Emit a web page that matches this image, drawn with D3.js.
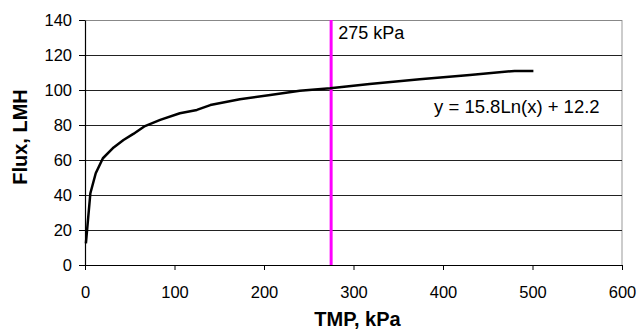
<!DOCTYPE html>
<html>
<head>
<meta charset="utf-8">
<script src="https://cdn.jsdelivr.net/npm/d3@7"></script>
<style>
  body { margin: 0; background: #fff; }
  text { font-family: Arial, "Liberation Sans", sans-serif; }
</style>
</head>
<body>
<div id="chart"></div>
<script>
// TMP (kPa) vs flux (LMH)
const tmp = [1, 6, 12, 20, 32, 43, 54, 67, 84, 106, 125, 140, 173, 207, 240, 274, 318, 374, 430, 480, 501];
const flux = [12.4, 41, 52.4, 61, 67.2, 71.4, 74.9, 79.4, 82.9, 86.7, 88.6, 91.4, 94.7, 97.1, 99.6, 101, 103.4, 106.1, 108.6, 110.9, 110.9];
const xTicks = [0, 100, 200, 300, 400, 500, 600];
const yTicks = [0, 20, 40, 60, 80, 100, 120, 140];
const markerTmp = 275;
const markerLabel = '275 kPa';
const fitLabel = 'y = 15.8Ln(x) + 12.2';

const width = 641, height = 332;
const margin = { top: 20, right: 19, bottom: 67, left: 85 };
const innerW = width - margin.left - margin.right;
const innerH = height - margin.top - margin.bottom;

const svg = d3.select('#chart').append('svg')
  .attr('width', width)
  .attr('height', height);

const g = svg.append('g')
  .attr('transform', 'translate(' + margin.left + ',' + margin.top + ')');

const x = d3.scaleLinear().domain([0, 600]).range([0, innerW]);
const y = d3.scaleLinear().domain([0, 140]).range([innerH, 0]);

// plot frame (right side light gray)
g.append('line')
  .attr('x1', innerW).attr('x2', innerW)
  .attr('y1', 0).attr('y2', innerH)
  .style('stroke', '#999').style('stroke-width', 1);

// horizontal gridlines
g.selectAll('.grid')
  .data(yTicks.slice(1))
  .enter().append('line')
  .attr('class', 'grid')
  .attr('x1', 0).attr('x2', innerW)
  .attr('y1', d => Math.round(y(d)) + 0.5)
  .attr('y2', d => Math.round(y(d)) + 0.5)
  .style('stroke', d => d === 140 ? '#888' : '#222')
  .style('stroke-width', 1);

// axes
const xAxis = d3.axisBottom(x).tickValues(xTicks).tickSize(5).tickSizeOuter(0).tickPadding(16);
const yAxis = d3.axisLeft(y).tickValues(yTicks).tickSize(6).tickSizeOuter(0).tickPadding(7);

const gx = g.append('g')
  .attr('transform', 'translate(0,' + innerH + ')')
  .call(xAxis);
const gy = g.append('g').call(yAxis);

[gx, gy].forEach(a => {
  a.select('.domain').style('stroke', '#000').style('stroke-width', 1.2);
  a.selectAll('.tick line').style('stroke', '#000');
  a.selectAll('.tick text')
    .style('font-size', '16.5px')
    .style('fill', '#000');
});

// marker line at 275 kPa
g.append('line')
  .attr('x1', x(markerTmp)).attr('x2', x(markerTmp))
  .attr('y1', 0).attr('y2', innerH)
  .style('stroke', '#ff00ff')
  .style('stroke-width', 3);

// flux curve
const line = d3.line()
  .x((d, i) => x(tmp[i]))
  .y(d => y(d));

g.append('path')
  .datum(flux)
  .attr('d', line)
  .style('fill', 'none')
  .style('stroke', '#000')
  .style('stroke-width', 2.5)
  .style('stroke-linejoin', 'round');

// annotations
g.append('text')
  .attr('x', x(markerTmp) + 7)
  .attr('y', 19)
  .style('font-size', '18px')
  .text(markerLabel);

g.append('text')
  .attr('x', x(390))
  .attr('y', y(87))
  .style('font-size', '18.5px')
  .text(fitLabel);

// axis titles
svg.append('text')
  .attr('x', margin.left + innerW / 2 + 4)
  .attr('y', 326)
  .attr('text-anchor', 'middle')
  .style('font-size', '20px')
  .style('font-weight', 'bold')
  .text('TMP, kPa');

svg.append('text')
  .attr('transform', 'translate(27,137) rotate(-90)')
  .attr('text-anchor', 'middle')
  .style('font-size', '20px')
  .style('font-weight', 'bold')
  .text('Flux, LMH');
</script>
</body>
</html>
